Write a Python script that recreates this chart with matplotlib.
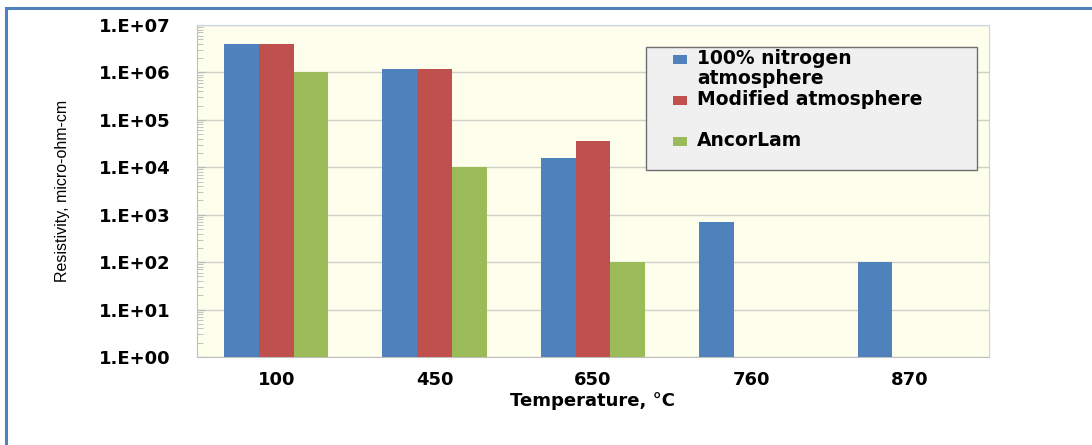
import numpy as np
import matplotlib
matplotlib.use('Agg')
import matplotlib.pyplot as plt
from matplotlib.lines import Line2D
from matplotlib.patches import Rectangle
from matplotlib.ticker import LogLocator, FuncFormatter, NullFormatter

# resistivity data (micro-ohm-cm) per sintering temperature
temperatures = ['100', '450', '650', '760', '870']
nitrogen = [4.0e6, 1.2e6, 1.6e4, 7.0e2, 1.0e2]
modified = [4.0e6, 1.2e6, 3.6e4, np.nan, np.nan]
ancorlam = [1.0e6, 1.0e4, 1.0e2, np.nan, np.nan]
series_names = ['100% nitrogen\natmosphere', 'Modified atmosphere', 'AncorLam']
series_colors = ['#4F81BD', '#C0504D', '#9BBB59']

W, H = 1092, 445
fig = plt.figure(figsize=(W / 100, H / 100), dpi=100)
fig.patch.set_facecolor('white')

# plot area in pixel units
left, right, top, bottom = 197, 989, 25, 357
ax = fig.add_axes([left / W, 1 - bottom / H, (right - left) / W, (bottom - top) / H])
ax.set_facecolor('#FEFEEC')

x = np.arange(len(temperatures))
bw = 0.22
for i, (vals, col) in enumerate(zip([nitrogen, modified, ancorlam], series_colors)):
    ax.bar(x + (i - 1) * bw, vals, width=bw, color=col, linewidth=0, zorder=3)

ax.set_yscale('log')
ax.set_ylim(1, 1e7)
ax.set_xlim(-0.5, len(temperatures) - 0.5)
ax.yaxis.set_major_locator(LogLocator(base=10, numticks=10))
ax.yaxis.set_minor_locator(LogLocator(base=10, subs=np.arange(2, 10), numticks=20))
ax.yaxis.set_major_formatter(FuncFormatter(lambda v, p: '1.E+%02d' % int(round(np.log10(v)))))
ax.yaxis.set_minor_formatter(NullFormatter())
ax.grid(axis='y', which='major', color='#D0D0C8', linewidth=1.0, zorder=0)

ax.set_xticks(x)
ax.set_xticklabels(temperatures)
ax.tick_params(axis='x', length=0, pad=10, labelsize=13)
ax.tick_params(axis='y', which='major', direction='in', length=6, color='#B8B8B8',
               pad=19, labelsize=13)
ax.tick_params(axis='y', which='minor', direction='in', length=4, color='#B8B8B8')
for lab in ax.get_xticklabels() + ax.get_yticklabels():
    lab.set_fontweight('bold')

for side in ['left', 'bottom']:
    ax.spines[side].set_color('#BFBFBF')
for side in ['top', 'right']:
    ax.spines[side].set_color('#C6D5E6')

ax.set_xlabel('Temperature, °C', fontsize=13, fontweight='bold', labelpad=2)
ax.set_ylabel('Resistivity, micro-ohm-cm', fontsize=11.5, fontweight='medium',
              family=['Liberation Sans', 'DejaVu Sans'])
ax.yaxis.set_label_coords((70 - left) / (right - left), 0.5)

# legend box drawn in pixel space
def px(xp, yp):
    return xp / W, 1 - yp / H

lx0, ly0, lx1, ly1 = 646, 47, 977, 170
fig.patches.append(Rectangle(px(lx0, ly1), (lx1 - lx0) / W, (ly1 - ly0) / H,
                             transform=fig.transFigure, facecolor='#F0F0F0',
                             edgecolor='#6E6E6E', linewidth=1.0, zorder=5))
for k, (name, col) in enumerate(zip(series_names, series_colors)):
    yc = 59 + k * 41
    fig.patches.append(Rectangle(px(673, yc + 4.5), 14 / W, 9 / H,
                                 transform=fig.transFigure, facecolor=col,
                                 edgecolor='none', zorder=6))
    fig.text(*px(697, yc - 10), name, fontsize=13.5, fontweight='bold', va='top',
             ha='left', linespacing=1.05, zorder=7)

# outer frame
fig.add_artist(Line2D([6 / W, 1], [1 - 8 / H, 1 - 8 / H], transform=fig.transFigure,
                      color='#4F81BD', linewidth=2.2))
fig.add_artist(Line2D([6 / W, 6 / W], [0, 1 - 8 / H], transform=fig.transFigure,
                      color='#4F81BD', linewidth=2.2))

fig.savefig('out.png', dpi=100)
